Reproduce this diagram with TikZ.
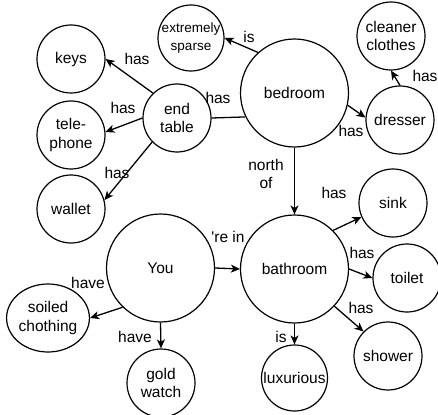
\documentclass[tikz,border=0pt]{standalone}
\usepackage{fontspec}
\setmainfont{Liberation Sans}
\usetikzlibrary{arrows.meta,shapes.geometric}
\begin{document}
\begin{tikzpicture}[x=1pt,y=-1pt,
  thing/.style={draw,circle,line width=1.2pt,minimum size=68pt,inner sep=0pt,align=center,font=\fontsize{15.5}{18.5}\selectfont},
  room/.style={thing,minimum size=108pt},
  rel/.style={line width=1.3pt,-{Stealth[length=9pt,width=8pt,inset=2.5pt]}},
  lbl/.style={inner sep=0pt,align=center,font=\fontsize{15.5}{18.5}\selectfont}]
  \useasboundingbox (0,0) rectangle (438,414);
  % rooms
  \node [room] (bedroom) at (294.5,93) {bedroom};
  \node [room] (bathroom) at (294.5,269) {bathroom};
  \node [room] (you) at (160.5,268) {You};
  % things
  \node [thing,minimum size=64pt,font=\fontsize{13.5}{18}\selectfont] (sparse) at (191,38) {extremely\\sparse};
  \node [thing] (keys) at (71,59) {keys};
  \node [thing] (phone) at (71,135) {tele-\\phone};
  \node [thing] (wallet) at (71,209) {wallet};
  \node [thing] (endtable) at (177,118) {end\\table};
  \node [thing] (cleaner) at (391,36) {cleaner\\clothes};
  \node [thing] (dresser) at (400,120) {dresser};
  \node [thing] (sink) at (393,203) {sink};
  \node [thing] (toilet) at (407,278) {toilet};
  \node [thing] (shower) at (388,356) {shower};
  \node [thing,minimum size=66pt] (lux) at (294.5,378) {luxurious};
  \node [thing] (gold) at (161,383) {gold\\watch};
  \node [thing,ellipse,minimum width=79pt,minimum height=68pt] (soiled) at (48,318) {soiled\\chothing};
  % relations
  \draw [rel] (endtable.134) -- (keys.east);
  \draw [rel] (endtable.west) -- (phone.5);
  \draw [rel] (endtable.224) -- (wallet.15);
  \draw [line width=1.3pt] (endtable.east) -- (bedroom.206);
  \draw [rel] (bedroom.132) -- (sparse.east);
  \draw [rel] (bedroom.-13) -- (dresser.176);
  \draw [rel] (dresser.north) -- (cleaner.south);
  \draw [rel] (bedroom.south) -- (bathroom.north);
  \draw [rel] (bathroom.45) -- (sink.204);
  \draw [rel] (bathroom.east) -- (toilet.west);
  \draw [rel] (bathroom.-43) -- (shower.135);
  \draw [rel] (bathroom.south) -- (lux.north);
  \draw [rel] (you.east) -- (bathroom.west);
  \draw [rel] (you.226) -- (soiled.east);
  \draw [rel] (you.south) -- (gold.north);
  % labels
  \node [lbl] (hasKeys) at (137,59) {has};
  \node [lbl] (hasPhone) at (123,108) {has};
  \node [lbl] (hasWallet) at (117,173) {has};
  \node [lbl] (hasTable) at (218,98) {has};
  \node [lbl] (isSparse) at (249,37) {is};
  \node [lbl] (hasDresser) at (351,131) {has};
  \node [lbl] (hasCleaner) at (425,76) {has};
  \node [lbl] (northOf) at (266,174) {north\\of};
  \node [lbl] (hasSink) at (334,193) {has};
  \node [lbl] (hasToilet) at (362,253) {has};
  \node [lbl] (hasShower) at (361,308) {has};
  \node [lbl] (isLux) at (281,337) {is};
  \node [lbl] (reIn) at (228,237) {\textquotesingle re in};
  \node [lbl] (haveSoiled) at (88,283) {have};
  \node [lbl] (haveGold) at (135,337) {have};
\end{tikzpicture}
\end{document}
